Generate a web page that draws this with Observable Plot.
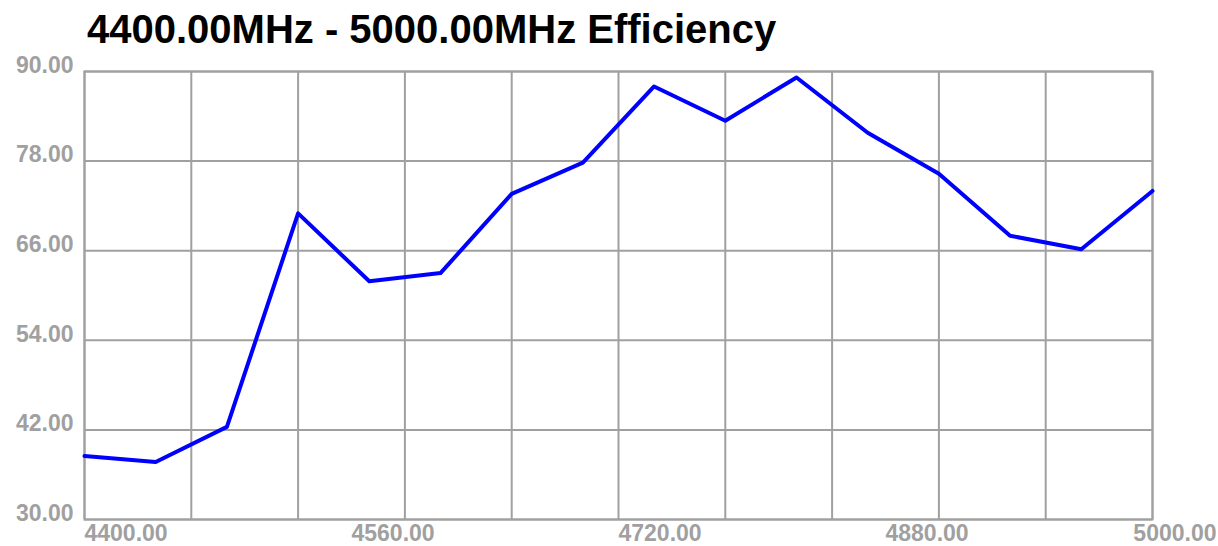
<!DOCTYPE html>
<html><head><meta charset="utf-8">
<script src="https://cdn.jsdelivr.net/npm/d3@7"></script>
<script src="https://cdn.jsdelivr.net/npm/@observablehq/plot@0.6"></script>
<style>
body{margin:0;background:#fff;font-family:"Liberation Sans",Arial,sans-serif}
#title{box-sizing:border-box;height:50px;padding-top:4px;padding-left:87px;font-size:40px;font-weight:bold;line-height:50px;color:#000;white-space:nowrap;overflow:visible}
</style></head>
<body><div id="title"></div><div id="chart"></div>
<script>
const titleText = "4400.00MHz - 5000.00MHz Efficiency";
const freqs = [4400,4440,4480,4520,4560,4600,4640,4680,4720,4760,4800,4840,4880,4920,4960,5000];
const efficiency = [38.5,37.7,42.4,71.0,61.9,63.0,73.6,77.8,88.0,83.4,89.2,81.8,76.3,68.0,66.2,74.0];
const yTicks = [30,42,54,66,78,90];
const xGrid = [4400,4460,4520,4580,4640,4700,4760,4820,4880,4940,5000];
const xLabelPos = [4400,4550,4700,4850,5000];
const xLabels = ["4400.00","4560.00","4720.00","4880.00","5000.00"];

document.getElementById("title").textContent = titleText;
const data = freqs.map((f,i)=>({f, e: efficiency[i]}));
const gray = "#a0a0a0";
const font = "'Liberation Sans', Arial, sans-serif";
const firstLabels = xLabelPos.slice(0,4).map((p,i)=>({p, t:xLabels[i]}));
const lastLabels = xLabelPos.slice(4).map((p,i)=>({p, t:xLabels[i+4]}));

const plot = Plot.plot({
  width:1218, height:496,
  marginTop:21, marginBottom:27, marginLeft:84, marginRight:66,
  style:{fontFamily:font, background:"white", overflow:"visible"},
  x:{domain:[4400,5000], axis:null},
  y:{domain:[30,90]},
  marks:[
    Plot.gridX(xGrid,{stroke:gray, strokeOpacity:1, strokeWidth:2}),
    Plot.gridY(yTicks,{stroke:gray, strokeOpacity:1, strokeWidth:2}),
    Plot.frame({stroke:gray, strokeWidth:2}),
    Plot.line(data,{x:"f", y:"e", stroke:"#0000ff", strokeWidth:4}),
    Plot.axisY(yTicks,{tickSize:0, tickPadding:11, tickFormat:d=>d.toFixed(2), fontSize:23, fontWeight:"bold", fill:gray, dy:-6, label:null}),
    Plot.text(firstLabels,{x:"p", text:"t", frameAnchor:"bottom", textAnchor:"start", lineAnchor:"top", dy:5, fontSize:23, fontWeight:"bold", fill:gray}),
    Plot.text(lastLabels,{x:"p", text:"t", frameAnchor:"bottom", textAnchor:"end", lineAnchor:"top", dy:5, dx:64, fontSize:23, fontWeight:"bold", fill:gray})
  ]
});
document.getElementById("chart").appendChild(plot);
</script>
</body></html>
